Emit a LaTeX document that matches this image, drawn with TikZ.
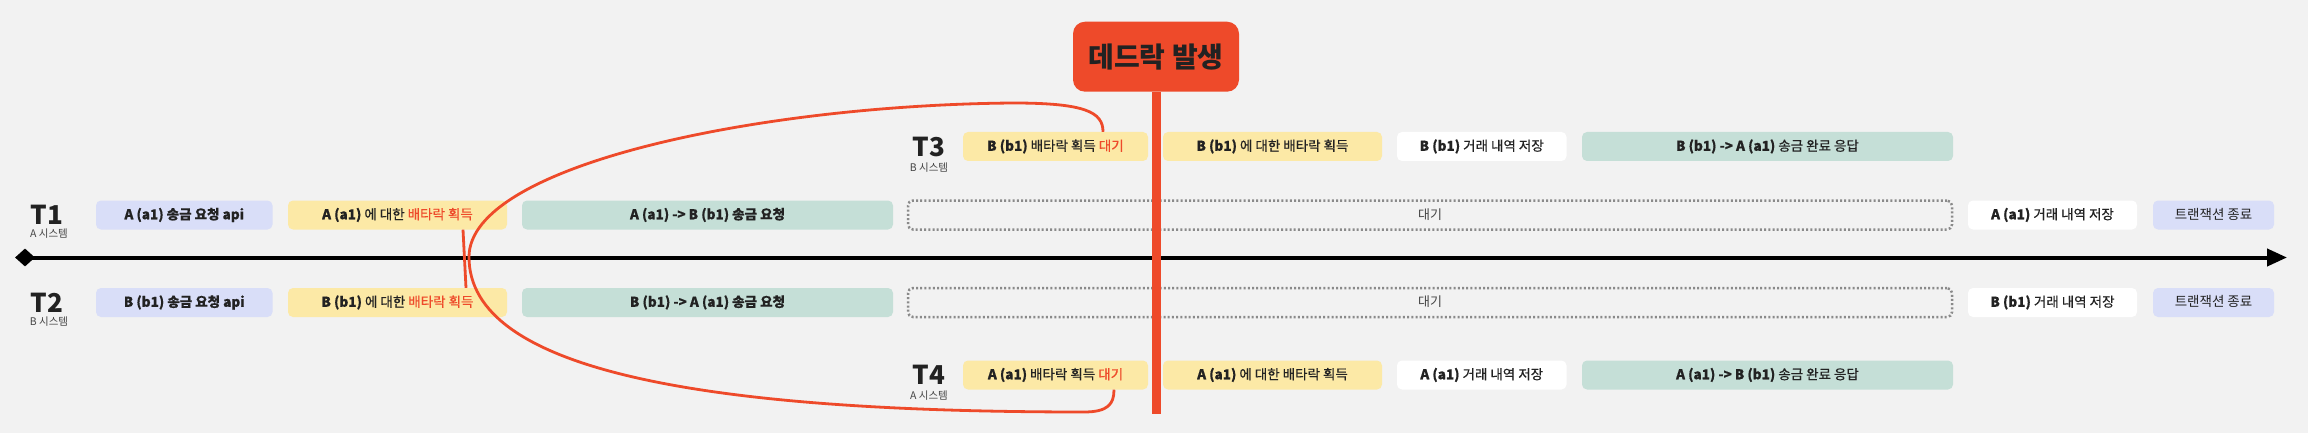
\documentclass[tikz,border=0pt]{standalone}
\usepackage{fontspec}
\setmainfont{Noto Sans CJK KR}
\newfontfamily\med[FakeBold=0.6]{Noto Sans CJK KR}
\usetikzlibrary{shapes.geometric,arrows.meta,calc}
\definecolor{bg}{HTML}{F2F2F2}
\definecolor{bl}{HTML}{D9DEF8}
\definecolor{yl}{HTML}{FCE9A6}
\definecolor{gr}{HTML}{C5DFD7}
\definecolor{rd}{HTML}{EE4A2A}
\definecolor{txt}{HTML}{222222}
\definecolor{dot}{HTML}{8A8A8A}
\definecolor{sub}{HTML}{444444}
\begin{document}
\begin{tikzpicture}[x=1pt,y=-1pt,
  box/.style={rounded corners=5pt, minimum height=29pt, inner sep=0pt, text=txt,
    font=\fontsize{13.5}{15}\med, text height=10.5pt, text depth=2pt},
  bluebox/.style={box, fill=bl},
  yelbox/.style={box, fill=yl},
  grnbox/.style={box, fill=gr},
  whtbox/.style={box, fill=white},
  waitbox/.style={box, draw=dot, line width=2.5pt, dash pattern=on 2pt off 2.2pt, text=sub,
    font=\fontsize{13}{15}\selectfont},
  tlabel/.style={inner sep=0pt, font=\fontsize{26}{26}\selectfont\bfseries, text=txt},
  tsub/.style={inner sep=0pt, font=\fontsize{10.5}{10.5}\selectfont, text=sub},
  redline/.style={draw=rd, line width=2.8pt}
]
\fill[bg] (0,0) rectangle (2308,433);
\useasboundingbox (0,0) rectangle (2308,433);

% deadlock
\node[fill=rd, rounded corners=12pt, minimum width=166pt, minimum height=70pt, inner sep=0pt,
  font=\fontsize{28}{28}\selectfont\bfseries, text=txt] (dl) at (1156,56.7) {데드락 발생};
\coordinate (barend) at (1156,414);

% timeline
\node[diamond, fill=black, minimum width=20pt, minimum height=18pt, inner sep=0pt] (dia) at (25,257.5) {};
\coordinate (tip) at (2287,257.5);
\draw[line width=4pt, -{Triangle[length=20pt,width=17pt]}] (dia.center) -- (tip);

% labels
\node[tlabel] (T1) at (47,215) {T1};
\node[tsub] (T1s) at (49,234) {A 시스템};
\node[tlabel] (T2) at (47,302.5) {T2};
\node[tsub] (T2s) at (49,321.5) {B 시스템};
\node[tlabel] (T3) at (929,146.5) {T3};
\node[tsub] (T3s) at (929,168) {B 시스템};
\node[tlabel] (T4) at (929,375) {T4};
\node[tsub] (T4s) at (929,396) {A 시스템};

% row T1
\node[bluebox, minimum width=176.5pt] (r1a) at (184.25,215) {\textbf{A (a1) 송금 요청 api}};
\node[yelbox, minimum width=219pt] (r1b) at (397.5,215) {\textbf{A (a1)} 에 대한 \textcolor{rd}{배타락 획득}};
\node[grnbox, minimum width=371pt] (r1c) at (707.5,215) {\textbf{A (a1) -> B (b1) 송금 요청}};
\node[waitbox, minimum width=1044pt] (r1d) at (1430,215) {대기};
\node[whtbox, minimum width=169pt] (r1e) at (2052.5,215) {\textbf{A (a1)} 거래 내역 저장};
\node[bluebox, minimum width=121pt, font=\fontsize{13.5}{15}\selectfont] (r1f) at (2213.5,215) {트랜잭션 종료};

% row T2
\node[bluebox, minimum width=176.5pt] (r2a) at (184.25,302.5) {\textbf{B (b1) 송금 요청 api}};
\node[yelbox, minimum width=219pt] (r2b) at (397.5,302.5) {\textbf{B (b1)} 에 대한 \textcolor{rd}{배타락 획득}};
\node[grnbox, minimum width=371pt] (r2c) at (707.5,302.5) {\textbf{B (b1) -> A (a1) 송금 요청}};
\node[waitbox, minimum width=1044pt] (r2d) at (1430,302.5) {대기};
\node[whtbox, minimum width=169pt] (r2e) at (2052.5,302.5) {\textbf{B (b1)} 거래 내역 저장};
\node[bluebox, minimum width=121pt, font=\fontsize{13.5}{15}\selectfont] (r2f) at (2213.5,302.5) {트랜잭션 종료};

% row T3
\node[yelbox, minimum width=185pt] (r3a) at (1055.5,146.5) {\textbf{B (b1)} 배타락 획득 \textcolor{rd}{대기}};
\node[yelbox, minimum width=219pt] (r3b) at (1272.5,146.5) {\textbf{B (b1)} 에 대한 배타락 획득};
\node[whtbox, minimum width=169.5pt] (r3c) at (1481.75,146.5) {\textbf{B (b1)} 거래 내역 저장};
\node[grnbox, minimum width=371pt] (r3d) at (1767.5,146.5) {\textbf{B (b1) -> A (a1)} 송금 완료 응답};

% row T4
\node[yelbox, minimum width=185pt] (r4a) at (1055.5,375) {\textbf{A (a1)} 배타락 획득 \textcolor{rd}{대기}};
\node[yelbox, minimum width=219pt] (r4b) at (1272.5,375) {\textbf{A (a1)} 에 대한 배타락 획득};
\node[whtbox, minimum width=169.5pt] (r4c) at (1481.75,375) {\textbf{A (a1)} 거래 내역 저장};
\node[grnbox, minimum width=371pt] (r4d) at (1767.5,375) {\textbf{A (a1) -> B (b1)} 송금 완료 응답};

% red bar
\draw[rd, line width=9pt] (dl.south) -- (barend);

% red connectors
\coordinate (l1) at ([xshift=65.5pt]r1b.south);
\coordinate (l2) at ([xshift=68.5pt]r2b.north);
\draw[redline] (l1) -- (l2);

\coordinate (cs) at ([xshift=47.5pt]r3a.north);
\coordinate (ce) at ([xshift=58.5pt]r4a.south);
\draw[redline] (cs) .. controls (1103,112) and (1085,103) .. (1013,103)
  .. controls (760,105) and (469,165) .. (469,257)
  .. controls (469,370) and (700,412) .. (1084,412)
  .. controls (1108,412) and (1114,404) .. (ce);
\end{tikzpicture}
\end{document}
